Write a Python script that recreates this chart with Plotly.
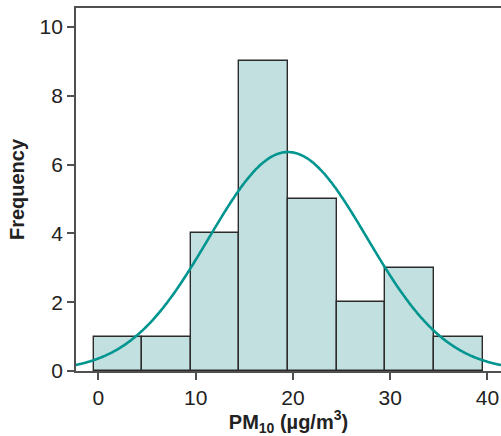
import numpy as np
import plotly.graph_objects as go

# Histogram data (bin centers and frequencies)
bin_centers = [2, 7, 12, 17, 22, 27, 32, 37]
frequencies = [1, 1, 4, 9, 5, 2, 3, 1]
bin_width = 5

# Fitted normal curve parameters
fit_mean = 19.5
fit_sd = 8.15

x_ticks = [0, 10, 20, 30, 40]
y_ticks = [0, 2, 4, 6, 8, 10]

n_total = sum(frequencies)
x_range = [-2.3, 41.4]
xs = np.linspace(x_range[0], x_range[1], 400)
ys = n_total * bin_width / (fit_sd * np.sqrt(2 * np.pi)) * np.exp(-0.5 * ((xs - fit_mean) / fit_sd) ** 2)

fig = go.Figure()
fig.add_trace(go.Bar(
    x=bin_centers, y=frequencies, width=bin_width,
    marker=dict(color="#C3E0E1", line=dict(color="#2b2b2b", width=1.4)),
    hoverinfo="skip",
))
fig.add_trace(go.Scatter(
    x=xs, y=ys, mode="lines",
    line=dict(color="#00958F", width=2.6, shape="spline"),
    cliponaxis=True, hoverinfo="skip",
))

font_family = "Liberation Sans, Arial, Helvetica, sans-serif"
fig.update_layout(
    width=501, height=436,
    margin=dict(l=76, r=0, t=8, b=65),
    paper_bgcolor="white", plot_bgcolor="white",
    showlegend=False, bargap=0,
    font=dict(family=font_family, size=21, color="#222222"),
    xaxis=dict(
        range=x_range, tickvals=x_ticks, ticktext=[str(v) for v in x_ticks],
        showgrid=False, zeroline=False,
        showline=True, linecolor="#505050", linewidth=1.8, mirror=True,
        ticks="outside", ticklen=7, tickwidth=1.5, tickcolor="#505050",
        tickfont=dict(size=21, color="#222222"),
        title=dict(text="<b>PM<sub>10</sub> (µg/m<sup>3</sup>)</b>", font=dict(size=20), standoff=4),
    ),
    yaxis=dict(
        range=[0, 10.55], tickvals=y_ticks, ticktext=[str(v) for v in y_ticks],
        showgrid=False, zeroline=False,
        showline=True, linecolor="#505050", linewidth=1.8, mirror=False,
        ticks="outside", ticklen=7, tickwidth=1.5, tickcolor="#505050",
        tickfont=dict(size=21, color="#222222"),
        title=dict(text="<b>Frequency</b>", font=dict(size=20), standoff=10),
    ),
)

fig.write_html("out.html")
